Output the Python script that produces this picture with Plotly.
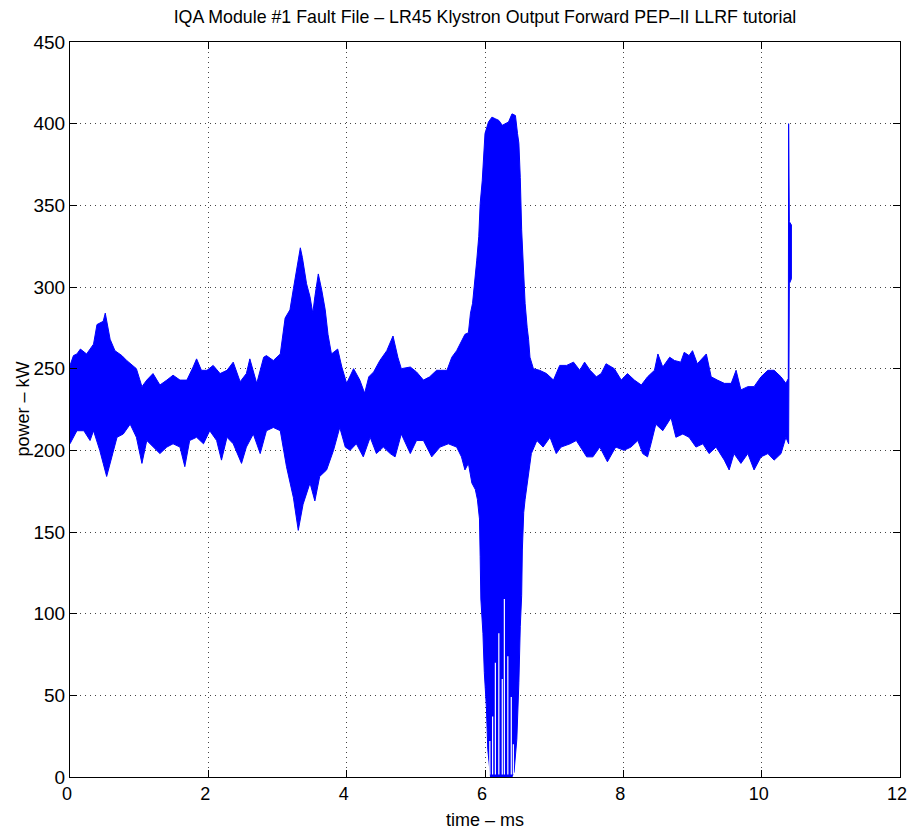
import plotly.graph_objects as go

# Upper envelope of the klystron forward power trace (time in ms, power in kW)
t_upper = [0.0, 0.05, 0.1, 0.15, 0.24, 0.34, 0.39, 0.48, 0.51, 0.58, 0.65, 0.75, 0.82, 0.96,
           1.04, 1.11, 1.2, 1.3, 1.4, 1.49, 1.59, 1.69, 1.78, 1.83, 1.9, 1.98, 2.07, 2.17,
           2.27, 2.36, 2.46, 2.55, 2.6, 2.7, 2.8, 2.84, 2.94, 3.04, 3.11, 3.18, 3.23, 3.28,
           3.33, 3.36, 3.42, 3.47, 3.51, 3.54, 3.59, 3.64, 3.69, 3.73, 3.78, 3.87, 3.93, 4.0,
           4.1, 4.19, 4.26, 4.32, 4.39, 4.48, 4.58, 4.67, 4.74, 4.79, 4.92, 5.01, 5.11, 5.2,
           5.3, 5.45, 5.52, 5.59, 5.64, 5.71, 5.76, 5.79, 5.82, 5.85, 5.88, 5.91, 5.93, 5.96,
           5.98, 6.0, 6.05, 6.1, 6.15, 6.2, 6.25, 6.29, 6.34, 6.39, 6.44, 6.47, 6.49, 6.51,
           6.53, 6.56, 6.58, 6.61, 6.63, 6.65, 6.7, 6.79, 6.89, 6.99, 7.08, 7.18, 7.28, 7.37,
           7.44, 7.52, 7.61, 7.68, 7.75, 7.87, 7.97, 8.06, 8.16, 8.26, 8.35, 8.45, 8.5, 8.57,
           8.67, 8.74, 8.83, 8.88, 8.95, 9.0, 9.07, 9.2, 9.27, 9.36, 9.46, 9.56, 9.63, 9.7,
           9.8, 9.89, 9.99, 10.09, 10.18, 10.28, 10.35, 10.385, 10.39, 10.40, 10.43]
p_upper = [252, 258, 259, 262, 259, 265, 277, 279, 284, 268, 261, 258, 255, 250,
           239, 243, 247, 240, 243, 246, 243, 243, 251, 256, 249, 249, 252, 247,
           249, 254, 242, 247, 256, 241, 257, 258, 255, 259, 281, 286, 299, 312,
           324, 318, 302, 294, 284, 294, 308, 298, 286, 271, 259, 262, 251, 241,
           250, 243, 235, 245, 248, 255, 261, 270, 257, 250, 251, 248, 243, 245,
           249, 249, 257, 261, 265, 271, 272, 284, 290, 302, 316, 331, 351, 365,
           378, 394, 401, 404, 403, 402, 399, 400, 401, 406, 405, 394, 388, 367,
           335, 308, 290, 275, 268, 257, 250, 249, 247, 243, 252, 252, 254, 249,
           254, 249, 245, 247, 253, 250, 243, 247, 243, 240, 245, 249, 259, 251,
           257, 255, 254, 260, 258, 261, 253, 259, 245, 243, 241, 241, 249, 237,
           239, 239, 245, 249, 249, 245, 241, 244, 400, 340, 338]

# Lower envelope
t_lower = [0.0, 0.1, 0.2, 0.29, 0.34, 0.43, 0.48, 0.53, 0.6, 0.68, 0.77, 0.87, 0.96, 1.04,
           1.11, 1.2, 1.3, 1.4, 1.49, 1.59, 1.66, 1.73, 1.83, 1.93, 2.02, 2.12, 2.19, 2.27,
           2.36, 2.48, 2.55, 2.65, 2.75, 2.84, 2.94, 3.04, 3.13, 3.23, 3.3, 3.37, 3.47, 3.54,
           3.61, 3.71, 3.81, 3.9, 3.98, 4.05, 4.14, 4.24, 4.34, 4.43, 4.53, 4.63, 4.7, 4.79,
           4.92, 5.01, 5.11, 5.23, 5.35, 5.47, 5.59, 5.66, 5.71, 5.76, 5.81, 5.86, 5.89, 5.92,
           5.93, 5.94, 5.97, 5.99, 6.02, 6.04, 6.08, 6.39, 6.42, 6.46, 6.49, 6.51, 6.53, 6.54,
           6.56, 6.58, 6.6, 6.62, 6.67, 6.75, 6.84, 6.94, 7.03, 7.1, 7.23, 7.32, 7.47, 7.56,
           7.66, 7.77, 7.89, 8.01, 8.11, 8.21, 8.28, 8.35, 8.4, 8.47, 8.57, 8.69, 8.76, 8.86,
           8.95, 9.05, 9.15, 9.24, 9.34, 9.46, 9.53, 9.6, 9.7, 9.8, 9.89, 9.99, 10.09, 10.18,
           10.28, 10.35, 10.39, 10.40, 10.43]
p_lower = [204, 212, 212, 206, 212, 200, 192, 184, 196, 208, 210, 216, 208, 192,
           206, 202, 198, 202, 204, 202, 190, 206, 208, 204, 212, 206, 194, 208,
           204, 192, 202, 210, 198, 212, 214, 212, 190, 171, 151, 167, 180, 169,
           184, 188, 200, 214, 202, 200, 204, 196, 208, 198, 202, 198, 196, 210,
           198, 206, 206, 196, 202, 204, 202, 196, 188, 192, 180, 176, 170, 158,
           135, 109, 88, 64, 43, 17, 0, 0, 3, 23, 58, 92, 111, 139,
           162, 170, 176, 184, 198, 206, 202, 208, 198, 202, 204, 206, 196, 196,
           202, 193, 202, 200, 202, 206, 198, 196, 204, 216, 212, 220, 208, 210,
           208, 202, 204, 198, 202, 194, 188, 198, 192, 198, 188, 196, 198, 194,
           198, 208, 204, 302, 305]

# White gaps between RF cycles in the deep dip near 6.1-6.4 ms
t_gap = [6.07, 6.11, 6.15, 6.20, 6.25, 6.28, 6.33, 6.38, 6.41]
p_gap_top = [22, 37, 70, 88, 60, 109, 74, 49, 20]

x_ticks = [0, 2, 4, 6, 8, 10, 12]
y_ticks = [0, 50, 100, 150, 200, 250, 300, 350, 400, 450]

BLUE = "#0000ff"
FONT = "Liberation Sans, Arial, Helvetica, sans-serif"

fig = go.Figure()
fig.add_trace(go.Scatter(
    x=t_upper + t_lower[::-1],
    y=p_upper + p_lower[::-1],
    mode="lines", fill="toself", fillcolor=BLUE,
    line=dict(color=BLUE, width=1), hoverinfo="skip", showlegend=False))

gx, gy = [], []
for t, top in zip(t_gap, p_gap_top):
    gx += [t, t, None]
    gy += [1.5, top, None]
fig.add_trace(go.Scatter(x=gx, y=gy, mode="lines",
                         line=dict(color="white", width=1.2),
                         hoverinfo="skip", showlegend=False))

axis_common = dict(
    showline=True, linecolor="black", linewidth=1, mirror="ticks",
    ticks="inside", ticklen=7, tickcolor="black", tickwidth=1,
    showgrid=True, gridcolor="#444444", gridwidth=1, griddash="1px,4px",
    zeroline=False, automargin=False, ticklabeloverflow="allow",
)

fig.update_layout(
    width=909, height=831,
    paper_bgcolor="white", plot_bgcolor="white",
    margin=dict(l=70, r=9, t=42, b=54),
    font=dict(family=FONT, color="black"),
    title=dict(text="IQA Module #1 Fault File – LR45 Klystron Output Forward PEP–II LLRF tutorial",
               x=0.5335, xanchor="center", y=1 - 17 / 831, yanchor="middle",
               yref="container", font=dict(family=FONT, size=17.8, color="black")),
    xaxis=dict(range=[0, 12], tickvals=x_ticks, ticktext=[str(v) for v in x_ticks],
               tickfont=dict(family=FONT, size=18, color="black"), ticklabelshift=-3,
               **axis_common),
    yaxis=dict(range=[0, 450], tickvals=y_ticks, ticktext=[str(v) for v in y_ticks],
               tickfont=dict(family=FONT, size=19, color="black"),
               **axis_common),
    annotations=[
        dict(text="time – ms", xref="paper", yref="paper", x=0.5, y=-(820 - 777) / 735,
             xanchor="center", yanchor="middle", showarrow=False,
             font=dict(family=FONT, size=18, color="black")),
        dict(text="power – kW", xref="paper", yref="paper", x=(22 - 70) / 830, y=0.5,
             xanchor="center", yanchor="middle", textangle=-90, showarrow=False,
             font=dict(family=FONT, size=18, color="black")),
    ],
)

fig.write_html(
    "out.html",
    config={"displayModeBar": False},
    post_script="document.body.style.margin='0';document.body.style.overflow='hidden';",
)
